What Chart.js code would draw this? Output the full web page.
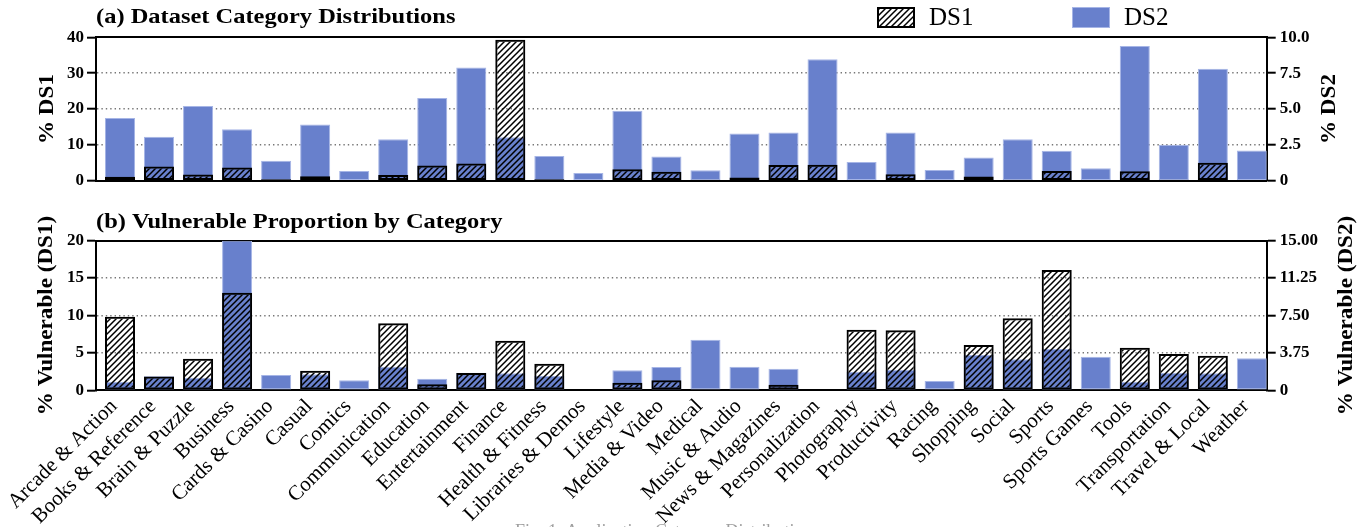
<!DOCTYPE html>
<html>
<head>
<meta charset="utf-8">
<script src="https://cdn.jsdelivr.net/npm/chart.js@4.4.1/dist/chart.umd.min.js"></script>
<style>
  html, body { margin: 0; padding: 0; background: #fff; width: 1369px; height: 527px; overflow: hidden; }
  canvas { position: absolute; left: 0; }
  #shareChart { top: 0; }
  #vulnChart { top: 195px; }
  #caption {
    position: absolute; left: 515px; top: 521px; white-space: nowrap;
    font: 18px 'Liberation Serif', 'Times New Roman', serif; color: #a0a0a0;
  }
</style>
</head>
<body>
<canvas id="shareChart" width="1369" height="195"></canvas>
<canvas id="vulnChart" width="1369" height="332"></canvas>
<div id="caption">Fig. 1: Application Category Distribution</div>
<script>
// App categories shown along the shared x axis
const categories = [
  'Arcade & Action', 'Books & Reference', 'Brain & Puzzle', 'Business', 'Cards & Casino',
  'Casual', 'Comics', 'Communication', 'Education', 'Entertainment',
  'Finance', 'Health & Fitness', 'Libraries & Demos', 'Lifestyle', 'Media & Video',
  'Medical', 'Music & Audio', 'News & Magazines', 'Personalization', 'Photography',
  'Productivity', 'Racing', 'Shopping', 'Social', 'Sports',
  'Sports Games', 'Tools', 'Transportation', 'Travel & Local', 'Weather'
];

// (a) share of apps per category, in percent
const ds1Share = [1.15, 4.0, 1.75, 3.7, 0.4, 1.3, 0, 1.65, 4.25, 4.8,
                  39.3, 0.4, 0, 3.25, 2.55, 0.3, 0.9, 4.4, 4.45, 0.15,
                  1.8, 0.2, 1.2, 0.3, 2.7, 0, 2.65, 0.3, 5.05, 0];
const ds2Share = [4.37, 3.07, 5.22, 3.6, 1.4, 3.93, 0.69, 2.89, 5.77, 7.9,
                  3.04, 1.73, 0.55, 4.89, 1.69, 0.73, 3.29, 3.37, 8.47, 1.31,
                  3.37, 0.75, 1.62, 2.89, 2.09, 0.87, 9.4, 2.51, 7.8, 2.11];

// (b) vulnerable proportion per category, in percent
const ds1Vulnerable = [9.84, 1.85, 4.23, 13.05, 0, 2.62, 0, 8.96, 0.8, 2.3,
                       6.63, 3.56, 0, 1.02, 1.34, 0, 0, 0.75, 0.15, 8.1,
                       8.02, 0, 6.06, 9.62, 16.08, 0, 5.7, 4.85, 4.63, 0];
const ds2Vulnerable = [0.86, 1.4, 1.27, 15, 1.53, 1.6, 1.0, 2.37, 1.16, 1.75,
                       1.7, 1.43, 0, 2.0, 2.34, 5.08, 2.37, 2.17, 0, 1.87,
                       2.07, 0.93, 3.54, 3.11, 4.14, 3.37, 0.86, 1.77, 1.7, 3.21];

// Tick values for each value axis
const shareDs1Ticks = [0, 10, 20, 30, 40];
const shareDs2Ticks = [0, 2.5, 5, 7.5, 10];
const vulnDs1Ticks = [0, 5, 10, 15, 20];
const vulnDs2Ticks = [0, 3.75, 7.5, 11.25, 15];

const SERIF = "'Liberation Serif', 'Times New Roman', serif";
const BLUE = '#6880CC';
const BLUE_EDGE = '#a6b5e6';

// Black "////" hatch on a transparent ground
function makeHatch() {
  const s = 6;
  const c = document.createElement('canvas');
  c.width = s; c.height = s;
  const g = c.getContext('2d');
  g.strokeStyle = '#000';
  g.lineWidth = 1.5;
  g.beginPath();
  g.moveTo(-1, s + 1); g.lineTo(s + 1, -1);
  g.moveTo(-1, 1); g.lineTo(1, -1);
  g.moveTo(s - 1, s + 1); g.lineTo(s + 1, s - 1);
  g.stroke();
  return g.createPattern(c, 'repeat');
}
const hatch = makeHatch();

// Text drawn with a slight stretch along its own direction
function stretchedText(ctx, text, x, y, angle, stretch, align) {
  ctx.save();
  ctx.translate(x, y);
  ctx.rotate(angle);
  ctx.scale(stretch, 1);
  ctx.textAlign = align;
  ctx.fillText(text, 0, 0);
  ctx.restore();
}

// Panel heading, axis titles (both read bottom-to-top) and legend
const decorations = {
  id: 'decorations',
  afterDraw(chart, args, opts) {
    const ctx = chart.ctx;
    const area = chart.chartArea;
    const midY = (area.top + area.bottom) / 2;
    ctx.save();
    ctx.fillStyle = '#000';

    ctx.font = 'bold 21px ' + SERIF;
    ctx.textBaseline = 'alphabetic';
    stretchedText(ctx, opts.heading, area.left, opts.headingY, 0, 1.165, 'left');

    ctx.font = 'bold 21px ' + SERIF;
    ctx.textBaseline = 'middle';
    stretchedText(ctx, opts.leftTitle, opts.leftX, midY, -Math.PI / 2, 1.1, 'center');
    stretchedText(ctx, opts.rightTitle, opts.rightX, midY, -Math.PI / 2, 1.1, 'center');

    if (opts.legend) {
      const L = opts.legend;
      chart.data.datasets.forEach((ds, i) => {
        const x = L.x[i];
        ctx.fillStyle = ds.backgroundColor;
        ctx.fillRect(x, L.y, L.w, L.h);
        ctx.strokeStyle = ds.borderColor;
        ctx.lineWidth = ds.borderWidth;
        ctx.strokeRect(x + ds.borderWidth / 2, L.y + ds.borderWidth / 2,
                       L.w - ds.borderWidth, L.h - ds.borderWidth);
        ctx.fillStyle = '#000';
        ctx.font = '25px ' + SERIF;
        ctx.textAlign = 'left';
        ctx.textBaseline = 'middle';
        ctx.fillText(ds.label, x + L.w + L.gap, L.y + L.h / 2 + 1);
      });
    }
    ctx.restore();
  }
};

const X_MIN = -0.615, X_MAX = 29.38;

function dottedGrid(max) {
  return {
    color: (c) => (c.tick && (c.tick.value === 0 || c.tick.value === max)) ? 'rgba(0,0,0,0)' : '#777',
    lineWidth: 1.4,
    tickColor: '#000',
    tickWidth: 2,
    tickLength: 9,
    tickBorderDash: []
  };
}
// Axis line; its dash setting styles the dotted grid lines
const axisBorder = { display: true, color: '#000', width: 2, dash: [1.4, 3] };

function setTicks(values) {
  return (axis) => { axis.ticks = values.map((v) => ({ value: v })); };
}

function buildChart(canvasId, cfg) {
  const xs = categories.map((_, i) => i);
  return new Chart(document.getElementById(canvasId), {
    type: 'bar',
    data: {
      datasets: [
        {
          label: 'DS1',
          data: cfg.ds1.map((v, i) => ({ x: xs[i], y: v })),
          yAxisID: 'y',
          backgroundColor: hatch,
          borderColor: '#000',
          borderWidth: 2,
          borderSkipped: false,
          grouped: false,
          order: 0
        },
        {
          label: 'DS2',
          data: cfg.ds2.map((v, i) => ({ x: xs[i], y: v })),
          yAxisID: 'y2',
          backgroundColor: BLUE,
          borderColor: BLUE_EDGE,
          borderWidth: 1,
          borderSkipped: false,
          grouped: false,
          order: 1
        }
      ]
    },
    options: {
      responsive: false,
      animation: false,
      devicePixelRatio: 1,
      categoryPercentage: 1,
      barPercentage: 0.77,
      layout: { padding: { top: cfg.padTop, left: 0, right: 0, bottom: 0 } },
      plugins: {
        legend: { display: false },
        tooltip: { enabled: false },
        decorations: cfg.decor
      },
      scales: {
        x: {
          type: 'linear',
          position: 'bottom',
          offset: false,
          min: X_MIN, max: X_MAX,
          z: 1,
          afterBuildTicks: setTicks(xs),
          afterFit: (axis) => { axis.height = cfg.xHeight; },
          grid: { display: false, drawTicks: false },
          border: { display: true, color: '#000', width: 2 },
          ticks: {
            display: cfg.showLabels,
            autoSkip: false,
            minRotation: 45, maxRotation: 45,
            padding: 4,
            labelOffset: -6,
            color: '#000',
            font: { family: SERIF, size: 21 },
            callback: (v) => categories[v]
          }
        },
        xTop: {
          type: 'linear',
          position: 'top',
          offset: false,
          min: X_MIN, max: X_MAX,
          z: 1,
          afterFit: (axis) => { axis.height = 0; },
          grid: { display: false, drawTicks: false },
          border: { display: true, color: '#000', width: 2 },
          ticks: { display: false }
        },
        y: {
          position: 'left',
          min: 0, max: cfg.leftTicks[cfg.leftTicks.length - 1],
          afterBuildTicks: setTicks(cfg.leftTicks),
          afterFit: (axis) => { axis.width = 96; },
          grid: dottedGrid(cfg.leftTicks[cfg.leftTicks.length - 1]),
          border: axisBorder,
          ticks: {
            color: '#000', padding: 3,
            font: { family: SERIF, size: 17, weight: 'bold' }
          }
        },
        y2: {
          position: 'right',
          min: 0, max: cfg.rightTicks[cfg.rightTicks.length - 1],
          afterBuildTicks: setTicks(cfg.rightTicks),
          afterFit: (axis) => { axis.width = 102.3; },
          grid: Object.assign(dottedGrid(-1), { drawOnChartArea: false }),
          border: axisBorder,
          ticks: {
            color: '#000', padding: 4,
            font: { family: SERIF, size: 17, weight: 'bold' },
            callback: (v) => v === 0 ? '0' : v.toFixed(cfg.rightDigits)
          }
        }
      }
    },
    plugins: [decorations]
  });
}

buildChart('shareChart', {
  ds1: ds1Share, ds2: ds2Share,
  leftTicks: shareDs1Ticks, rightTicks: shareDs2Ticks, rightDigits: 1,
  padTop: 37.3, xHeight: 7.7, showLabels: false,
  decor: {
    heading: '(a) Dataset Category Distributions', headingY: 23,
    leftTitle: '% DS1', leftX: 48,
    rightTitle: '% DS2', rightX: 1330,
    legend: { x: [877, 1072], y: 7, w: 38, h: 21, gap: 14 }
  }
});

buildChart('vulnChart', {
  ds1: ds1Vulnerable, ds2: ds2Vulnerable,
  leftTicks: vulnDs1Ticks, rightTicks: vulnDs2Ticks, rightDigits: 2,
  padTop: 45.7, xHeight: 136.7, showLabels: true,
  decor: {
    heading: '(b) Vulnerable Proportion by Category', headingY: 33,
    leftTitle: '% Vulnerable (DS1)', leftX: 47,
    rightTitle: '% Vulnerable (DS2)', rightX: 1347
  }
});
</script>
</body>
</html>
